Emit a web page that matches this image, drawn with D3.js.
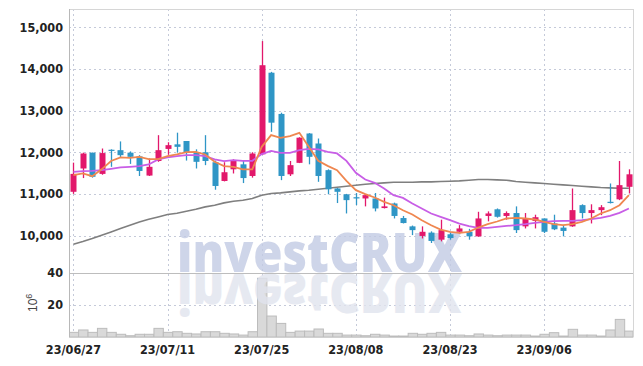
<!DOCTYPE html>
<html>
<head>
<meta charset="utf-8">
<script src="https://cdn.jsdelivr.net/npm/d3@7"></script>
<style>
  body { margin: 0; background: #fff; }
  svg { display: block; }
  .tick-label { font-family: "Liberation Sans Narrow", "DejaVu Sans Condensed", sans-serif; font-weight: bold; font-size: 12.5px; fill: #222; }
</style>
</head>
<body>
<svg id="chart" width="643" height="366"></svg>
<script>
// trading days shown on the chart
var dates = ["06/27","06/28","06/29","06/30","07/03","07/04","07/05","07/06","07/07","07/10",
             "07/11","07/12","07/13","07/14","07/17","07/18","07/19","07/20","07/21","07/24",
             "07/25","07/26","07/27","07/28","07/31","08/01","08/02","08/03","08/04","08/07",
             "08/08","08/09","08/10","08/11","08/14","08/16","08/17","08/18","08/21","08/22",
             "08/23","08/24","08/25","08/28","08/29","08/30","08/31","09/01","09/04","09/05",
             "09/06","09/07","09/08","09/11","09/12","09/13","09/14","09/15","09/18","09/19"];

var open  = [11050,11610,11990,11480,12060,12050,11990,11900,11440,11790,
             12080,12190,12270,12000,12000,11760,11310,11590,11710,11430,
             11950,13910,12920,11470,11745,12450,12210,11570,11130,10990,
             10920,10890,10890,10660,10770,10420,10220,9990,10070,9900,
             10030,10090,10090,9980,10470,10630,10470,10540,10220,10350,
             10410,10290,10190,10220,10730,10540,10610,10810,10870,11170];
var close = [11480,11970,11410,11980,12040,11930,11890,11550,11650,12050,
             12170,12130,11990,11770,11790,11190,11520,11810,11380,11970,
             14090,12710,11430,11690,12350,11890,11430,11110,11050,10850,
             10890,10970,10650,10700,10470,10300,10130,10090,9870,10130,
             9940,10170,9980,10410,10530,10450,10540,10130,10410,10440,
             10090,10150,10110,10610,10540,10610,10680,10780,11210,11470];
var high  = [11750,11990,11990,12090,12070,12260,12020,11930,11850,12410,
             12240,12470,12270,12070,12410,11800,11760,11830,11810,12000,
             14670,13930,12950,11790,12360,12460,12330,11590,11140,11000,
             11020,11000,11020,10910,10790,10470,10240,10220,10100,10380,
             10080,10250,10160,10570,10580,10650,10580,10700,10540,10500,
             10410,10500,10250,11130,10750,10750,10730,11250,11790,11590];
var low   = [11000,11380,11390,11460,11650,11880,11720,11430,11430,11770,
             11940,11990,11800,11610,11690,11100,11300,11490,11260,11390,
             11940,12490,11330,11430,11740,11710,11290,10990,10780,10530,
             10730,10700,10580,10650,10410,10290,10010,9930,9820,9860,
             9900,10050,9900,9970,10340,10430,10380,10060,10170,10170,
             10060,10130,9980,10210,10410,10290,10490,10770,10850,11010];

// volume, in millions of shares
var volume = [2.9,4.4,2.9,5.4,2.9,1.7,0.8,1.7,1.7,5.4,
              2.9,3.3,2.3,1.9,3.3,3.3,2.3,1.9,1.2,3.3,
              36.7,13.1,8.5,2.9,3.7,3.7,5.0,2.3,2.3,1.2,
              1.2,0.8,1.7,1.2,0.6,0.6,2.3,1.7,2.3,2.9,
              1.2,1.2,0.8,1.9,1.2,0.8,1.2,1.2,1.2,0.6,
              1.7,2.7,0.6,4.8,1.2,1.2,0.6,4.4,11.0,3.7];

// moving averages
var ma5   = [11450,11490,11425,11590,11790,11875,11866,11890,11834,11834,
             11906,11947,12002,12010,11947,11770,11666,11650,11587,11587,
             12130,12411,12346,12387,12467,12130,11794,11673,11570,11313,
             11089,10993,10913,10808,10728,10608,10505,10368,10248,10144,
             10087,10063,10087,10192,10272,10337,10409,10423,10409,10385,
             10327,10272,10248,10272,10327,10409,10529,10608,10728,10969];
var ma20  = [11530,11546,11553,11570,11601,11635,11650,11666,11707,11827,
             11875,11906,11930,11930,11906,11827,11786,11810,11794,11794,
             11955,12034,11986,11986,12050,12083,12070,12010,11971,11794,
             11505,11346,11265,11130,10969,10904,10769,10649,10529,10447,
             10368,10288,10224,10183,10183,10207,10231,10248,10272,10303,
             10327,10344,10351,10351,10368,10392,10423,10471,10543,10649];
var ma120 = [9790,9856,9928,10007,10087,10168,10248,10327,10392,10447,
             10505,10536,10584,10632,10688,10728,10784,10825,10849,10889,
             10969,11010,11024,11048,11072,11089,11113,11137,11161,11185,
             11209,11233,11250,11265,11281,11281,11281,11289,11289,11297,
             11305,11313,11329,11346,11346,11337,11329,11297,11281,11265,
             11250,11233,11217,11201,11185,11169,11153,11145,11137,11137];

var priceTicks = [10000, 11000, 12000, 13000, 14000, 15000];
var volTicks = [20, 40];
var dateTicks = ["23/06/27", "23/07/11", "23/07/25", "23/08/08", "23/08/23", "23/09/06"];
var dateTickIdx = [0, 10, 20, 30, 40, 50];

var upColor = "#e2186b";
var downColor = "#2f96c6";

var svg = d3.select("#chart");

var plotLeft = 69, plotRight = 633, plotTop = 9, split = 273, plotBottom = 337;

var x = d3.scaleBand().domain(d3.range(dates.length)).range([plotLeft - 0.3, plotRight + 0.6]).padding(0);
var y = d3.scaleLinear().domain([9100, 15440]).range([split, plotTop]);
var yv = d3.scaleLinear().domain([0, 40]).range([plotBottom, split]);

function cx(i) { return x(i) + x.bandwidth() / 2; }

// grid
var grid = svg.append("g");
grid.selectAll(".hgrid").data(priceTicks).enter().append("line")
    .attr("x1", plotLeft).attr("x2", plotRight)
    .attr("y1", function(d) { return Math.round(y(d)) + 0.5; })
    .attr("y2", function(d) { return Math.round(y(d)) + 0.5; })
    .attr("stroke", "#c5cad9").attr("stroke-dasharray", "2,3");
grid.append("line")
    .attr("x1", plotLeft).attr("x2", plotRight)
    .attr("y1", Math.round(yv(20)) + 0.5).attr("y2", Math.round(yv(20)) + 0.5)
    .attr("stroke", "#c5cad9").attr("stroke-dasharray", "2,3");
grid.selectAll(".vgrid").data(dateTickIdx).enter().append("line")
    .attr("x1", function(d) { return Math.round(cx(d)) + 0.5; })
    .attr("x2", function(d) { return Math.round(cx(d)) + 0.5; })
    .attr("y1", plotTop).attr("y2", plotBottom)
    .attr("stroke", "#c5cad9").attr("stroke-dasharray", "2,3");

// volume bars
svg.append("g").selectAll("rect").data(volume).enter().append("rect")
    .attr("x", function(d, i) { return Math.max(plotLeft, x(i)) + 0.5; })
    .attr("y", function(d) { return yv(d); })
    .attr("width", function(d, i) { return Math.min(x.bandwidth(), plotRight - x(i) - 0.5); })
    .attr("height", function(d) { return plotBottom - yv(d); })
    .attr("fill", "#d9d9d9")
    .attr("stroke", "#bcbcbc")
    .attr("stroke-width", 1);

// watermark and its reflection
var wm = svg.append("g").attr("opacity", 0.8);
wm.append("text")
    .attr("x", 177).attr("y", 272)
    .attr("textLength", 285).attr("lengthAdjust", "spacingAndGlyphs")
    .style("font-family", "'Open Sans', 'DejaVu Sans', sans-serif")
    .style("font-weight", 800).style("font-size", "54px")
    .attr("fill", "#c3cbe4")
    .text("investCRUX");
wm.append("text")
    .attr("x", 177).attr("y", -274)
    .attr("transform", "scale(1,-1)")
    .attr("textLength", 285).attr("lengthAdjust", "spacingAndGlyphs")
    .style("font-family", "'Open Sans', 'DejaVu Sans', sans-serif")
    .style("font-weight", 800).style("font-size", "54px")
    .attr("fill", "#e1e4ee")
    .text("investCRUX");

// frame
svg.append("line").attr("x1", plotLeft).attr("x2", plotRight).attr("y1", plotTop + 0.5).attr("y2", plotTop + 0.5).attr("stroke", "#d6d6d6");
svg.append("line").attr("x1", plotRight + 0.5).attr("x2", plotRight + 0.5).attr("y1", plotTop).attr("y2", plotBottom).attr("stroke", "#d6d6d6");
svg.append("line").attr("x1", plotLeft).attr("x2", plotRight).attr("y1", split + 0.5).attr("y2", split + 0.5).attr("stroke", "#bdbdbd");
svg.append("line").attr("x1", plotLeft).attr("x2", plotRight).attr("y1", plotBottom + 0.5).attr("y2", plotBottom + 0.5).attr("stroke", "#d0d0d0");
svg.append("line").attr("x1", plotLeft + 0.5).attr("x2", plotLeft + 0.5).attr("y1", plotTop).attr("y2", plotBottom).attr("stroke", "#b8b8b8");

// moving average lines
function maLine(data, color, width) {
    var line = d3.line()
        .x(function(d, i) { return cx(i); })
        .y(function(d) { return y(d); });
    svg.append("path")
        .datum(data)
        .attr("d", line)
        .attr("fill", "none")
        .attr("stroke", color)
        .attr("stroke-width", width);
}
maLine(ma120, "#7f7f7f", 1.6);

// candles
var candles = svg.append("g").selectAll("g").data(dates).enter().append("g");
candles.append("line")
    .attr("x1", function(d, i) { return Math.round(cx(i)) + 0.5; })
    .attr("x2", function(d, i) { return Math.round(cx(i)) + 0.5; })
    .attr("y1", function(d, i) { return y(high[i]); })
    .attr("y2", function(d, i) { return y(low[i]); })
    .attr("stroke", function(d, i) { return close[i] >= open[i] ? upColor : downColor; })
    .attr("stroke-width", 1.3);
candles.append("rect")
    .attr("x", function(d, i) { return Math.round(cx(i)) - 2.5; })
    .attr("width", 6)
    .attr("y", function(d, i) { return y(Math.max(open[i], close[i])); })
    .attr("height", function(d, i) { return Math.max(1.2, Math.abs(y(open[i]) - y(close[i]))); })
    .attr("fill", function(d, i) { return close[i] >= open[i] ? upColor : downColor; });

maLine(ma20, "#c85ee6", 1.8);
maLine(ma5, "#ef8750", 1.8);

// axis labels
svg.append("g").selectAll("text").data(priceTicks).enter().append("text")
    .attr("class", "tick-label")
    .attr("x", 63).attr("y", function(d) { return y(d); })
    .attr("dy", "0.35em").attr("text-anchor", "end")
    .text(d3.format(","));
svg.append("g").selectAll("text").data(volTicks).enter().append("text")
    .attr("class", "tick-label")
    .attr("x", 63).attr("y", function(d) { return yv(d); })
    .attr("dy", "0.35em").attr("text-anchor", "end")
    .text(function(d) { return d; });
svg.append("g").selectAll("text").data(dateTicks).enter().append("text")
    .attr("class", "tick-label")
    .attr("x", function(d, i) { return cx(dateTickIdx[i]); })
    .attr("y", 354).attr("text-anchor", "middle")
    .text(function(d) { return d; });

var unit = svg.append("text")
    .attr("transform", "translate(37,312) rotate(-90)")
    .style("font-family", "'Liberation Sans', sans-serif")
    .style("font-size", "12px").attr("fill", "#444");
unit.append("tspan").text("10");
unit.append("tspan").attr("dy", "-5").style("font-size", "9px").text("6");
</script>
</body>
</html>
